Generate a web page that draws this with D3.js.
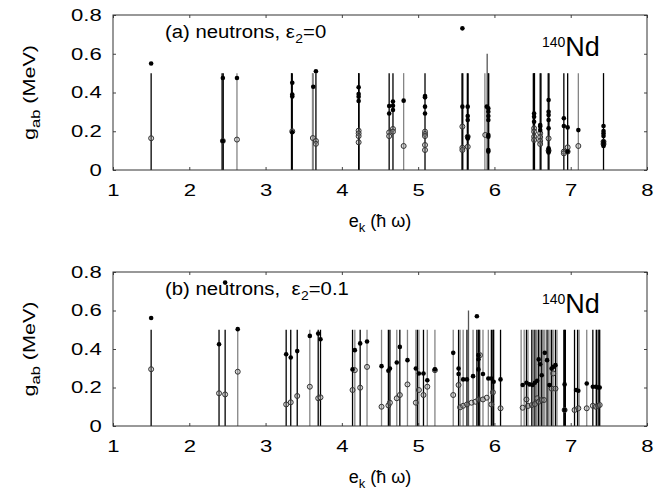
<!DOCTYPE html>
<html>
<head>
<meta charset="utf-8">
<script src="https://cdn.jsdelivr.net/npm/d3@7"></script>
<style>
  body { margin: 0; background: #fff; }
  text { font-family: "Liberation Sans", Arial, sans-serif; fill: #000; }
</style>
</head>
<body>
<div id="chart"></div>
<script>
// axis ticks
const eTicks = [1, 2, 3, 4, 5, 6, 7, 8];
const gTicks = [0, 0.2, 0.4, 0.6, 0.8];
const gTickLabels = ["0", "0.2", "0.4", "0.6", "0.8"];

const lineTop = 0.5;   // cut-off of the level lines
const tallTop = 0.6;

// ---- panel (a): eps2 = 0 ----
const linesA_black = [1.5, 2.43, 2.445, 3.34, 3.35, 3.66, 4.22, 4.225, 4.62, 4.67, 5.09,
  5.575, 5.585, 5.645, 5.655, 5.915, 5.925, 6.51, 6.52, 6.525, 6.6, 6.61, 6.705, 6.715,
  6.91, 6.96, 7.43];
const linesA_gray = [2.625, 3.615, 3.625, 4.81, 5.875, 7.10];
const tallA = [5.905];

const filledA = [
  [1.5, 0.55], [2.44, 0.475], [2.44, 0.15], [2.625, 0.475],
  [3.35, 0.45], [3.35, 0.39], [3.35, 0.38], [3.35, 0.195],
  [3.625, 0.43], [3.66, 0.51],
  [4.22, 0.427], [4.22, 0.392], [4.22, 0.378], [4.22, 0.356],
  [4.62, 0.33], [4.62, 0.292], [4.67, 0.353], [4.67, 0.332], [4.67, 0.31],
  [4.81, 0.358],
  [5.09, 0.382], [5.09, 0.375], [5.09, 0.327], [5.09, 0.292],
  [5.58, 0.731], [5.58, 0.327],
  [5.65, 0.327], [5.65, 0.279], [5.65, 0.258], [5.65, 0.172], [5.65, 0.163],
  [5.9, 0.327], [5.92, 0.318], [5.92, 0.301], [5.92, 0.279], [5.92, 0.258],
  [5.92, 0.181], [5.92, 0.172], [5.92, 0.103], [5.92, 0.095],
  [6.52, 0.292], [6.52, 0.275], [6.52, 0.249],
  [6.6, 0.232], [6.6, 0.224], [6.6, 0.206],
  [6.71, 0.361], [6.71, 0.301], [6.71, 0.284], [6.71, 0.258], [6.71, 0.215],
  [6.71, 0.112], [6.71, 0.1], [6.71, 0.09],
  [6.91, 0.267], [6.91, 0.227], [6.96, 0.22], [6.96, 0.095],
  [7.10, 0.206],
  [7.43, 0.227], [7.43, 0.201], [7.43, 0.189], [7.43, 0.175], [7.43, 0.146],
  [7.43, 0.134], [7.43, 0.124]
];
const openA = [
  [1.5, 0.164], [2.44, 0.15], [2.625, 0.157], [3.35, 0.2],
  [3.62, 0.165], [3.66, 0.15], [3.66, 0.135],
  [4.22, 0.203], [4.22, 0.189], [4.22, 0.175], [4.22, 0.143],
  [4.62, 0.194], [4.62, 0.175], [4.67, 0.212], [4.67, 0.198],
  [4.81, 0.124],
  [5.09, 0.198], [5.09, 0.186], [5.09, 0.175], [5.09, 0.129], [5.09, 0.103],
  [5.58, 0.224], [5.58, 0.115], [5.58, 0.103],
  [5.65, 0.172], [5.65, 0.12], [5.88, 0.181],
  [6.52, 0.215], [6.52, 0.198], [6.52, 0.172], [6.52, 0.155],
  [6.6, 0.19], [6.6, 0.17], [6.6, 0.15], [6.6, 0.134],
  [6.71, 0.163], [6.71, 0.1],
  [6.91, 0.095], [6.91, 0.086], [6.96, 0.117], [6.96, 0.095],
  [7.10, 0.124], [7.43, 0.146], [7.43, 0.134]
];

// ---- panel (b): eps2 = 0.1 ----
const linesB_black = [1.5, 2.39, 2.47, 3.27, 3.33, 3.415, 3.69, 3.72, 4.14, 4.24, 4.61,
  4.63, 4.76, 4.99, 5.07, 5.53, 5.64, 5.77, 5.79, 5.8, 5.96, 5.98, 5.99, 6.08,
  6.42, 6.49, 6.53, 6.58, 6.62, 6.69, 6.75, 6.8, 6.91, 6.92, 6.93, 7.05, 7.09,
  7.29, 7.34, 7.37, 7.38];
const linesB_gray = [2.635, 3.58, 4.17, 4.33, 4.52, 4.72, 4.86, 4.97, 5.01, 5.12, 5.22,
  5.46, 5.55, 5.59, 5.72, 5.81, 5.85, 5.92, 6.35, 6.39, 6.44, 6.51, 6.55, 6.57, 6.6,
  6.64, 6.66, 6.71, 6.73, 6.77, 6.82, 7.11, 7.21, 7.33, 7.36];
const tallB = [5.66];

const filledB = [
  [1.5, 0.561], [2.39, 0.425], [2.47, 0.745], [2.635, 0.503],
  [3.27, 0.373], [3.33, 0.356], [3.415, 0.389], [3.58, 0.468], [3.69, 0.48], [3.72, 0.451],
  [4.14, 0.294], [4.17, 0.394], [4.24, 0.429], [4.33, 0.439],
  [4.52, 0.311], [4.61, 0.287], [4.63, 0.299], [4.72, 0.33], [4.76, 0.411], [4.86, 0.342],
  [4.97, 0.299], [5.01, 0.273], [5.07, 0.273], [5.12, 0.238], [5.22, 0.294],
  [5.46, 0.38], [5.53, 0.299], [5.53, 0.27], [5.59, 0.242], [5.64, 0.242], [5.72, 0.259],
  [5.77, 0.57], [5.79, 0.294], [5.79, 0.368], [5.79, 0.347], [5.85, 0.27], [5.92, 0.247],
  [5.96, 0.247], [5.99, 0.23], [6.08, 0.242],
  [6.37, 0.213], [6.42, 0.225], [6.46, 0.216], [6.5, 0.213], [6.53, 0.225], [6.56, 0.235],
  [6.58, 0.346], [6.6, 0.321], [6.62, 0.264], [6.66, 0.38], [6.69, 0.342], [6.72, 0.213],
  [6.75, 0.299], [6.77, 0.307], [6.8, 0.316], [6.92, 0.216], [6.92, 0.083],
  [7.07, 0.187], [7.1, 0.183], [7.21, 0.221], [7.29, 0.204], [7.33, 0.204],
  [7.36, 0.2], [7.38, 0.2]
];
const openB = [
  [1.5, 0.295], [2.39, 0.17], [2.47, 0.164], [2.635, 0.282],
  [3.27, 0.112], [3.33, 0.123], [3.415, 0.156], [3.58, 0.204], [3.69, 0.144], [3.72, 0.149],
  [4.14, 0.187], [4.17, 0.29], [4.24, 0.199], [4.33, 0.307],
  [4.52, 0.1], [4.61, 0.107], [4.63, 0.121], [4.72, 0.144], [4.76, 0.161], [4.86, 0.216],
  [4.97, 0.121], [5.01, 0.187], [5.07, 0.161], [5.12, 0.204], [5.22, 0.29],
  [5.46, 0.161], [5.53, 0.213], [5.55, 0.097], [5.59, 0.105], [5.64, 0.112], [5.7, 0.121],
  [5.75, 0.126], [5.79, 0.138], [5.81, 0.368], [5.85, 0.138], [5.9, 0.147], [5.98, 0.175],
  [5.96, 0.112], [6.08, 0.092],
  [6.37, 0.095], [6.42, 0.138], [6.44, 0.104], [6.49, 0.109], [6.53, 0.114], [6.56, 0.144],
  [6.58, 0.126], [6.62, 0.135], [6.65, 0.135], [6.75, 0.194], [6.77, 0.273], [6.8, 0.194],
  [6.92, 0.083], [7.05, 0.083], [7.1, 0.092], [7.21, 0.092], [7.29, 0.105], [7.33, 0.1],
  [7.36, 0.105], [7.38, 0.109]
];

const width = 672, height = 491;
const left = 113, plotW = 534;
const stretch = 1.3;   // the original lettering is wide

const svg = d3.select("#chart").append("svg")
    .attr("width", width)
    .attr("height", height);

const x = d3.scaleLinear().domain([1, 8]).range([0, plotW]);

function drawPanel(top, plotH, p) {
    const y = d3.scaleLinear().domain([0, 0.8]).range([plotH, 0]);
    const g = svg.append("g").attr("transform", `translate(${left},${top})`);

    // level lines
    const lineSets = [
        { data: p.gray, color: "#858585", top: lineTop },
        { data: p.black, color: "#000", top: lineTop },
        { data: p.tall, color: "#555", top: tallTop }
    ];
    lineSets.forEach(s => {
        g.append("g").selectAll("line")
            .data(s.data)
            .join("line")
            .attr("x1", d => x(d)).attr("x2", d => x(d))
            .attr("y1", y(0)).attr("y2", y(s.top))
            .attr("stroke", s.color)
            .attr("stroke-width", 1.3);
    });

    g.append("g").selectAll("circle")
        .data(p.open)
        .join("circle")
        .attr("cx", d => x(d[0])).attr("cy", d => y(d[1]))
        .attr("r", 2.5)
        .attr("fill", "rgba(160,160,160,0.35)")
        .attr("stroke", "#333")
        .attr("stroke-width", 1);

    g.append("g").selectAll("circle")
        .data(p.filled)
        .join("circle")
        .attr("cx", d => x(d[0])).attr("cy", d => y(d[1]))
        .attr("r", 2.3)
        .attr("fill", "#000");

    // axes, ticks pointing inward
    g.append("g").attr("transform", `translate(0,${plotH})`)
        .call(d3.axisBottom(x).tickValues(eTicks).tickSize(-3).tickPadding(14).tickFormat(d3.format("d")));
    g.append("g")
        .call(d3.axisLeft(y).tickValues(gTicks).tickSize(-3).tickPadding(8.7)
            .tickFormat((d, i) => gTickLabels[i]));
    g.append("g").call(d3.axisTop(x).tickValues(eTicks).tickSize(-3).tickFormat(""));
    g.append("g").attr("transform", `translate(${plotW},0)`)
        .call(d3.axisRight(y).tickValues(gTicks).tickSize(-3).tickFormat(""));

    g.selectAll(".domain").remove();
    g.selectAll(".tick line").attr("stroke", "#444");
    g.selectAll(".tick text").attr("font-size", "17px")
        .attr("font-family", "'Liberation Sans', Arial, sans-serif")
        .attr("transform", `scale(${stretch},1)`);

    g.append("rect")
        .attr("width", plotW).attr("height", plotH)
        .attr("fill", "none")
        .attr("stroke", "#333")
        .attr("stroke-width", 1);

    // panel label
    const lab = g.append("text").attr("x", 52).attr("y", 23).attr("font-size", "19px")
        .attr("transform", `translate(52,0) scale(${p.labelScale},1) translate(-52,0)`);
    lab.append("tspan").text(p.label + "\u03b5");
    lab.append("tspan").attr("dy", 5).attr("dx", 0.5).attr("font-size", "13px").text("2");
    lab.append("tspan").attr("dy", -5).text("=" + p.eps);

    // nucleus
    const nd = g.append("text").attr("x", 429).attr("y", 40.5).attr("font-size", "27px");
    nd.append("tspan").attr("font-size", "14px").attr("dy", -9).text("140");
    nd.append("tspan").attr("dy", 9).text("Nd");

    // x title
    const xt = g.append("text")
        .attr("x", plotW / 2).attr("y", plotH + 57)
        .attr("text-anchor", "middle").attr("font-size", "18px");
    xt.append("tspan").text("e");
    xt.append("tspan").attr("dy", 5).attr("font-size", "13px").text("k");
    xt.append("tspan").attr("dy", -5).text(" (\u0127 \u03c9)");

    // y title
    const yt = svg.append("text")
        .attr("transform", `translate(35,${top + plotH / 2}) rotate(-90) scale(1.27,1)`)
        .attr("text-anchor", "middle").attr("font-size", "17px");
    yt.append("tspan").text("g");
    yt.append("tspan").attr("dy", 5).attr("font-size", "13px").text("ab");
    yt.append("tspan").attr("dy", -5).text(" (MeV)");
}

drawPanel(15, 155, {
    black: linesA_black, gray: linesA_gray, tall: tallA,
    filled: filledA, open: openA,
    label: "(a) neutrons, ", eps: "0", labelScale: 1.07
});
drawPanel(272, 154, {
    black: linesB_black, gray: linesB_gray, tall: tallB,
    filled: filledB, open: openB,
    label: "(b) neutrons,\u00a0 ", eps: "0.1", labelScale: 1.07
});
</script>
</body>
</html>
